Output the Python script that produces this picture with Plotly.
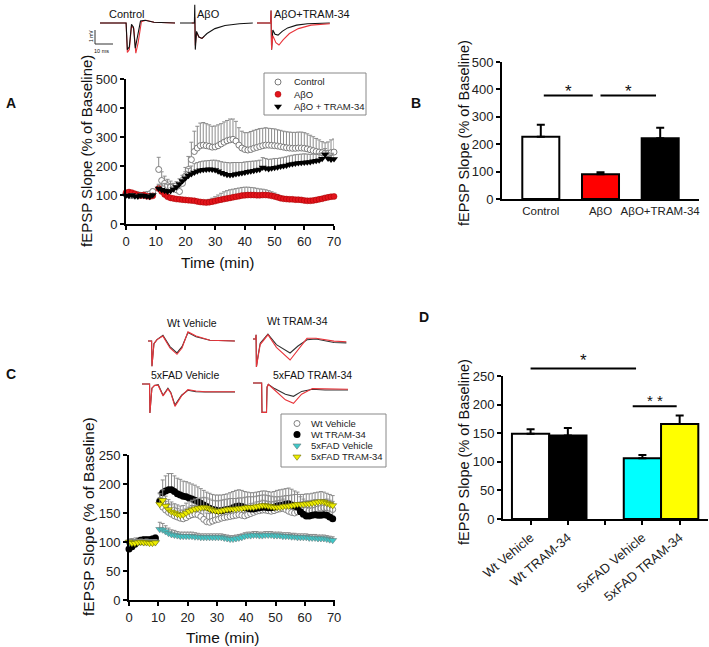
import plotly.graph_objects as go

W, H = 709, 647
FONT = "Liberation Sans, Arial, sans-serif"


def fx(px):
    # pixel column -> paper x
    return px / W


def fy(py):
    # pixel row -> paper y
    return 1 - py / H


# ---------------- Panel A : LTP time course ----------------
a_time = list(range(0, 10)) + list(range(11, 71))
a_control = [102, 100, 98, 100, 101, 99, 100, 102, 104, 112,
             188, 150, 140, 132, 128, 122, 118, 112, 140, 165,
             188, 222, 250, 262, 270, 272, 270, 268, 265, 266,
             270, 276, 282, 287, 290, 292, 286, 272, 262, 257,
             255, 257, 261, 264, 267, 270, 272, 272, 271, 270,
             269, 267, 265, 263, 262, 261, 261, 262, 262, 261,
             259, 256, 253, 250, 248, 246, 244, 243, 246, 248]
a_control_err = [6, 5, 5, 5, 5, 5, 5, 5, 6, 8,
                 42, 30, 25, 22, 20, 18, 15, 15, 20, 30,
                 45, 60, 70, 75, 78, 78, 76, 74, 72, 72,
                 72, 70, 70, 70, 72, 70, 68, 60, 58, 58,
                 60, 62, 62, 62, 62, 60, 60, 58, 58, 58,
                 56, 56, 55, 55, 55, 55, 55, 55, 55, 54,
                 52, 50, 48, 45, 42, 38, 36, 40, 44, 45]
a_abo = [108, 110, 108, 104, 100, 98, 100, 96, 95, 97,
         122, 112, 102, 94, 90, 88, 86, 85, 84, 83,
         82, 81, 80, 78, 76, 75, 74, 75, 77, 79,
         82, 84, 86, 88, 90, 92, 94, 96, 98, 99,
         100, 100, 100, 99, 99, 100, 100, 99, 97, 95,
         92, 89, 87, 86, 85, 85, 84, 84, 83, 81,
         80, 80, 81, 83, 85, 87, 90, 92, 94, 95]
a_abo_err = [4, 4, 5, 4, 4, 4, 4, 5, 4, 4,
             10, 8, 6, 5, 5, 5, 5, 5, 5, 5,
             5, 5, 5, 5, 5, 6, 8, 10, 12, 15,
             18, 22, 25, 27, 28, 28, 28, 28, 28, 28,
             27, 26, 25, 24, 22, 20, 18, 16, 14, 12,
             10, 8, 7, 6, 6, 6, 6, 6, 6, 6,
             6, 6, 6, 6, 6, 6, 6, 6, 6, 6]
a_tram = [98, 97, 100, 96, 95, 99, 97, 96, 94, 100,
          122, 118, 115, 112, 114, 120, 128, 138, 148, 158,
          166, 172, 178, 182, 185, 187, 188, 189, 188, 186,
          182, 177, 173, 170, 169, 170, 172, 174, 176, 178,
          180, 182, 184, 186, 188, 195, 192, 190, 192, 194,
          196, 198, 200, 202, 205, 207, 209, 210, 211, 212,
          213, 214, 216, 218, 220, 225, 240, 226, 222, 224]
a_tram_err = [5, 5, 5, 5, 5, 5, 5, 5, 5, 5,
              15, 20, 25, 25, 22, 20, 18, 18, 20, 22,
              25, 28, 30, 30, 30, 30, 30, 30, 32, 34,
              36, 38, 40, 42, 42, 42, 40, 38, 36, 36,
              35, 34, 33, 32, 32, 34, 34, 33, 32, 32,
              30, 30, 30, 30, 30, 30, 30, 30, 30, 30,
              28, 26, 25, 24, 22, 20, 20, 20, 20, 20]

# ---------------- Panel B : summary bars ----------------
b_groups = ["Control", "AβO", "AβO+TRAM-34"]
b_mean = [227, 90, 222]
b_err = [44, 8, 38]
b_colors = ["white", "#ff0000", "black"]

# ---------------- Panel C : 5xFAD time course ----------------
c_time = list(range(0, 10)) + [t + 0.5 for t in range(10, 70)]
c_wt_veh = [100, 101, 102, 102, 101, 100, 100, 102, 103, 104,
            172, 160, 155, 151, 148, 145, 143, 141, 140, 142,
            145, 147, 148, 147, 144, 139, 135, 134, 136, 138,
            139, 141, 142, 143, 144, 145, 146, 147, 146, 145,
            147, 149, 151, 153, 154, 155, 155, 154, 153, 154,
            156, 157, 158, 156, 153, 151, 150, 152, 154, 155,
            155, 154, 154, 155, 157, 158, 159, 159, 158, 156]
c_wt_veh_err = [4, 4, 4, 5, 4, 4, 4, 4, 5, 4,
                12, 14, 15, 15, 16, 15, 15, 14, 15, 15,
                15, 16, 15, 15, 14, 15, 15, 15, 16, 15,
                16, 16, 17, 16, 16, 16, 17, 16, 16, 16,
                16, 17, 16, 16, 16, 17, 16, 16, 16, 16,
                15, 15, 16, 15, 15, 15, 14, 15, 15, 15,
                14, 14, 15, 14, 14, 14, 14, 15, 14, 14]
c_wt_tram = [88, 92, 96, 100, 103, 104, 104, 104, 105, 107,
             170, 185, 188, 190, 190, 187, 183, 181, 179, 178,
             176, 174, 172, 170, 167, 164, 161, 158, 156, 155,
             154, 154, 155, 156, 157, 159, 161, 162, 161, 159,
             158, 157, 157, 158, 159, 160, 160, 159, 159, 160,
             162, 163, 164, 165, 166, 164, 162, 160, 152, 148,
             145, 145, 146, 147, 146, 146, 147, 146, 143, 140]
c_wt_tram_err = [5, 5, 5, 5, 5, 5, 5, 5, 5, 5,
                 15, 22, 26, 28, 28, 27, 27, 27, 26, 26,
                 26, 26, 26, 25, 25, 25, 25, 26, 26, 26,
                 27, 27, 27, 27, 28, 28, 28, 28, 28, 28,
                 28, 28, 28, 28, 28, 28, 28, 28, 27, 27,
                 27, 27, 27, 27, 27, 27, 26, 26, 26, 26,
                 26, 26, 26, 26, 25, 25, 25, 25, 25, 25]
c_fad_veh = [98, 100, 100, 100, 100, 100, 101, 100, 100, 100,
             122, 121, 118, 115, 113, 112, 111, 110, 110, 110,
             110, 110, 109, 109, 108, 108, 108, 108, 108, 108,
             108, 108, 107, 106, 105, 105, 106, 107, 108, 110,
             111, 111, 112, 112, 111, 111, 112, 112, 112, 111,
             111, 111, 110, 110, 110, 109, 109, 108, 108, 108,
             108, 107, 107, 107, 106, 106, 106, 105, 104, 103]
c_fad_veh_err = [4, 4, 4, 4, 4, 4, 4, 4, 4, 4,
                 12, 11, 10, 9, 8, 8, 7, 7, 7, 7,
                 7, 7, 7, 6, 6, 6, 6, 6, 6, 6,
                 6, 6, 6, 6, 6, 6, 6, 6, 6, 6,
                 6, 6, 6, 6, 6, 6, 6, 6, 6, 6,
                 6, 6, 6, 6, 6, 6, 6, 6, 6, 6,
                 6, 6, 6, 6, 6, 6, 6, 6, 6, 6]
c_fad_tram = [100, 98, 98, 99, 100, 99, 99, 98, 98, 99,
              165, 172, 162, 156, 152, 150, 148, 146, 147, 150,
              153, 155, 157, 158, 159, 160, 159, 157, 155, 154,
              153, 154, 155, 156, 157, 157, 157, 158, 158, 159,
              160, 160, 160, 161, 162, 163, 163, 162, 161, 160,
              160, 160, 161, 162, 162, 163, 164, 165, 165, 165,
              166, 166, 167, 168, 169, 170, 169, 167, 165, 163]
c_fad_tram_err = [5, 5, 5, 5, 5, 5, 5, 5, 5, 5,
                  18, 18, 17, 17, 17, 16, 16, 16, 16, 17,
                  17, 17, 17, 17, 17, 17, 17, 17, 17, 17,
                  18, 18, 18, 18, 18, 18, 18, 18, 18, 18,
                  18, 18, 18, 18, 18, 18, 18, 18, 18, 18,
                  18, 18, 18, 18, 18, 18, 18, 17, 17, 17,
                  17, 17, 17, 17, 17, 17, 17, 17, 17, 17]

# ---------------- Panel D : summary bars ----------------
d_slots = ["Wt Vehicle", "Wt TRAM-34", "", "5xFAD Vehicle", "5xFAD TRAM-34"]
d_groups = ["Wt Vehicle", "Wt TRAM-34", "5xFAD Vehicle", "5xFAD TRAM-34"]
d_mean = [149, 146, 106, 166]
d_err = [8, 13, 6, 15]
d_colors = ["white", "black", "#00ffff", "#ffff00"]

# ---------------- example fEPSP traces (ms, mV) ----------------
ins_ctl_t_k = [0, 14.5, 15.2, 16.3, 17.5, 18.6, 19.6, 20.6, 22.5, 25, 30, 41.7]
ins_ctl_v_k = [0, 0, -1.9, -1.7, -0.1, -0.3, -1.8, -1.2, 0.15, 0.2, 0.05, 0]
ins_ctl_t_r = [0, 14.5, 15.2, 16.3, 17.5, 18.8, 19.9, 21.2, 23, 25.5, 30, 41.7]
ins_ctl_v_r = [0, 0, -2.1, -1.9, -0.2, -0.4, -2.15, -1.4, 0.1, 0.2, 0.05, 0]
ins_abo_t_k = [0, 8.0, 8.2, 8.5, 9.2, 10.5, 12.2, 15, 19.4, 25, 33, 40.5]
ins_abo_v_k = [0, 0, 1.3, -1.9, -0.6, -1.0, -1.1, -0.75, -0.4, -0.18, -0.05, 0]
ins_abo_t_r = [6.5, 8.0, 8.2, 8.5, 9.2, 10.5, 12.2, 13.5]
ins_abo_v_r = [0, 0, 0.4, -1.6, -0.7, -1.0, -1.1, -0.95]
ins_tram_t_k = [0, 7.6, 7.8, 8.1, 8.8, 10, 11.7, 14, 17, 22, 28, 40.5]
ins_tram_v_k = [0, 0, 0.9, -1.9, -0.5, -0.8, -0.86, -0.6, -0.35, -0.15, -0.05, 0]
ins_tram_t_r = [0, 7.6, 7.8, 8.1, 8.8, 10.5, 12.2, 14.5, 18, 23, 30, 40.5]
ins_tram_v_r = [0, 0, 0.9, -1.9, -0.9, -1.4, -1.57, -1.2, -0.75, -0.4, -0.15, -0.05]

ins_wv_t = [0, 2.0, 2.2, 3.3, 5, 8.3, 12.2, 16.1, 18.9, 22.2, 26.7, 34.4, 48.3]
ins_wv_v_k = [0, 0, -1.8, -0.2, 0.1, 0.4, -0.4, -0.85, -0.4, 0.6, 0.3, 0.05, 0]
ins_wv_v_r = [0, 0, -1.8, -0.2, 0.1, 0.35, -0.5, -0.95, -0.5, 0.65, 0.35, 0.05, 0]
ins_wt_t = [0, 1.5, 1.7, 1.9, 2.8, 4, 8.3, 13, 20.6, 25, 30, 35, 45, 52]
ins_wt_v_k = [0, 0, 0.3, -2.0, -1.2, -0.3, 0.35, -0.4, -1.0, -0.5, -0.05, 0.0, -0.25, -0.28]
ins_wt_v_r = [0, 0, 0.3, -2.0, -1.3, -0.4, 0.3, -0.6, -1.5, -0.8, 0.05, 0.05, -0.15, -0.2]
ins_fv_t = [0, 4.2, 4.4, 5.5, 7, 9, 11.7, 14.4, 16, 18.3, 22, 25.5, 30, 35, 51.7]
ins_fv_v_k = [0, 0, -2.07, -0.3, -0.1, -0.05, -0.8, -0.3, -0.6, -1.5, -0.8, -0.45, -0.55, -0.57, -0.57]
ins_fv_v_r = [0, 0, -2.07, -0.3, -0.1, -0.1, -0.85, -0.35, -0.65, -1.6, -0.85, -0.4, -0.5, -0.55, -0.55]
ins_ft_t = [0, 4.8, 5.0, 7.5, 7.8, 8.5, 12, 18, 22.5, 27, 33, 40, 52.8]
ins_ft_v_k = [0, 0, -2.1, -2.1, -0.3, -0.1, -0.4, -0.8, -0.95, -0.6, -0.45, -0.5, -0.5]
ins_ft_v_r = [0, 0, -2.1, -2.1, -0.3, -0.1, -0.5, -1.2, -1.45, -0.8, -0.4, -0.4, -0.45]

# ---------------- marker styles ----------------
sty_control = dict(symbol="circle", size=6, color="white", line=dict(color="#7a7a7a", width=1))
sty_abo = dict(symbol="circle", size=6, color="#e3141c", line=dict(color="#a00000", width=0.5))
sty_tram = dict(symbol="triangle-down", size=7, color="black", line=dict(width=0))
sty_wtveh = dict(symbol="circle", size=6, color="white", line=dict(color="#808080", width=1))
sty_wttram = dict(symbol="circle", size=7, color="black", line=dict(width=0))
sty_fadveh = dict(symbol="triangle-down", size=7, color="#3ec8c8", line=dict(color="#6a7a7a", width=0.6))
sty_fadtram = dict(symbol="triangle-down", size=7, color="#eeee00", line=dict(color="#6a6a00", width=0.6))

RED = "#e8343a"


def errs(arr):
    return dict(type="data", symmetric=False, array=arr, arrayminus=[0 for _ in arr],
                color="#8c8c8c", thickness=1, width=2)


fig = go.Figure()

# Panel A series
for y, e, sty in [(a_control, a_control_err, sty_control),
                  (a_abo, a_abo_err, sty_abo),
                  (a_tram, a_tram_err, sty_tram)]:
    fig.add_trace(go.Scatter(x=a_time, y=y, mode="markers", marker=sty, error_y=errs(e),
                             xaxis="x", yaxis="y", cliponaxis=False, showlegend=False))

# Panel B bars
b_pos = list(range(len(b_groups)))
fig.add_trace(go.Bar(x=b_pos, y=b_mean, width=0.62,
                     marker=dict(color=b_colors, line=dict(color="black", width=2)),
                     error_y=dict(type="data", symmetric=False, array=b_err,
                                  arrayminus=[0 for _ in b_err], color="black",
                                  thickness=2, width=4),
                     xaxis="x2", yaxis="y2", showlegend=False))

# Panel C series
for y, e, sty in [(c_wt_veh, c_wt_veh_err, sty_wtveh),
                  (c_wt_tram, c_wt_tram_err, sty_wttram),
                  (c_fad_veh, c_fad_veh_err, sty_fadveh),
                  (c_fad_tram, c_fad_tram_err, sty_fadtram)]:
    fig.add_trace(go.Scatter(x=c_time, y=y, mode="markers", marker=sty, error_y=errs(e),
                             xaxis="x3", yaxis="y3", cliponaxis=False, showlegend=False))

# Panel D bars
d_pos = [d_slots.index(g) for g in d_groups]
fig.add_trace(go.Bar(x=d_pos, y=d_mean, width=1.0,
                     marker=dict(color=d_colors, line=dict(color="black", width=2)),
                     error_y=dict(type="data", symmetric=False, array=d_err,
                                  arrayminus=[0 for _ in d_err], color="black",
                                  thickness=2, width=4),
                     xaxis="x4", yaxis="y4", showlegend=False))

# example traces (insets)
PX_MS, PX_MV = 1.8, 14.0
insets = [
    # axis n, left px, baseline px, span ms, [(t, v, color)]
    (5, 100, 23, 41.7, [(ins_ctl_t_r, ins_ctl_v_r, RED), (ins_ctl_t_k, ins_ctl_v_k, "#111")]),
    (6, 180, 23, 40.5, [(ins_abo_t_r, ins_abo_v_r, RED), (ins_abo_t_k, ins_abo_v_k, "#111")]),
    (7, 257, 23, 40.5, [(ins_tram_t_k, ins_tram_v_k, "#111"), (ins_tram_t_r, ins_tram_v_r, RED)]),
    (8, 148, 341, 48.3, [(ins_wv_t, ins_wv_v_k, "#333"), (ins_wv_t, ins_wv_v_r, RED)]),
    (9, 253, 339, 52.0, [(ins_wt_t, ins_wt_v_k, "#333"), (ins_wt_t, ins_wt_v_r, RED)]),
    (10, 142, 384, 51.7, [(ins_fv_t, ins_fv_v_k, "#333"), (ins_fv_t, ins_fv_v_r, RED)]),
    (11, 253, 383, 52.8, [(ins_ft_t, ins_ft_v_k, "#333"), (ins_ft_t, ins_ft_v_r, RED)]),
]
V_LO, V_HI = -2.4, 1.6
layout_axes = {}
for n, left, base, span, lines in insets:
    for t, v, col in lines:
        fig.add_trace(go.Scatter(x=t, y=v, mode="lines", line=dict(color=col, width=1.1),
                                 xaxis=f"x{n}", yaxis=f"y{n}", showlegend=False,
                                 hoverinfo="skip"))
    layout_axes[f"xaxis{n}"] = dict(domain=[fx(left), fx(left + span * PX_MS)], range=[0, span],
                                    visible=False, anchor=f"y{n}")
    layout_axes[f"yaxis{n}"] = dict(domain=[fy(base - V_LO * PX_MV), fy(base - V_HI * PX_MV)],
                                    range=[V_LO, V_HI], visible=False, anchor=f"x{n}")

# legend keys, drawn on a full-figure pixel overlay axis
leg_a = [("Control", sty_control), ("AβO", sty_abo), ("AβO + TRAM-34", sty_tram)]
leg_c = [("Wt Vehicle", sty_wtveh), ("Wt TRAM-34", sty_wttram),
         ("5xFAD Vehicle", sty_fadveh), ("5xFAD TRAM-34", sty_fadtram)]
annotations = []
for entries, kx, tx, y0, dy in [(leg_a, 278, 292, 82, 12.3), (leg_c, 297, 309, 423.5, 11.1)]:
    for i, (name, sty) in enumerate(entries):
        fig.add_trace(go.Scatter(x=[kx], y=[y0 + i * dy], mode="markers", marker=sty,
                                 xaxis="x14", yaxis="y14", showlegend=False, hoverinfo="skip"))
        annotations.append(dict(text=name, x=fx(tx), y=fy(y0 + i * dy), xref="paper", yref="paper",
                                xanchor="left", yanchor="middle", showarrow=False,
                                font=dict(size=9.5, color="#222")))


# ---------------- axes ----------------
def ax(**kw):
    base = dict(showline=True, linecolor="black", linewidth=2, ticks="outside", ticklen=4,
                tickwidth=1.5, tickcolor="black", showgrid=False, zeroline=False,
                automargin=False, tickfont=dict(size=13, color="#222", family=FONT))
    base.update(kw)
    return base


D_Y0, D_Y250 = 519, 376
layout_axes.update(
    xaxis=ax(domain=[fx(126), fx(334)], range=[0, 70], tickvals=list(range(0, 71, 10)), anchor="y"),
    yaxis=ax(domain=[fy(224), fy(79)], range=[0, 500], tickvals=list(range(0, 501, 100)), anchor="x"),
    xaxis2=ax(domain=[fx(502), fx(699)], range=[-0.65, 2.65], tickvals=b_pos, ticktext=b_groups,
              ticks="", tickfont=dict(size=11.5, color="#222", family=FONT), anchor="y2"),
    yaxis2=ax(domain=[fy(199), fy(62)], range=[0, 500], tickvals=list(range(0, 501, 100)), anchor="x2"),
    xaxis3=ax(domain=[fx(129), fx(335)], range=[0, 70.3], tickvals=list(range(0, 71, 10)), anchor="y3"),
    yaxis3=ax(domain=[fy(600), fy(455)], range=[0, 250], tickvals=list(range(0, 251, 50)), anchor="x3"),
    xaxis4=ax(domain=[fx(503), fx(708)], range=[-0.74, 4.76], tickvals=list(range(len(d_slots))),
              ticktext=d_slots, tickangle=-40, tickfont=dict(size=13, color="#222", family=FONT),
              anchor="y4"),
    yaxis4=ax(domain=[fy(D_Y0), fy(D_Y250)], range=[0, 250], tickvals=list(range(0, 251, 50)), anchor="x4"),
    # overlay sharing panel D's scale, taller, for the significance bar above 250
    xaxis13=dict(domain=[fx(503), fx(708)], range=[-0.74, 4.76], visible=False, anchor="y13"),
    yaxis13=dict(domain=[fy(D_Y0), fy(330)], range=[0, 250 * (D_Y0 - 330) / (D_Y0 - D_Y250)],
                 visible=False, anchor="x13"),
    xaxis14=dict(domain=[0, 1], range=[0, W], visible=False, anchor="y14"),
    yaxis14=dict(domain=[0, 1], range=[H, 0], visible=False, anchor="x14"),
)

# ---------------- shapes ----------------
shapes = [
    # significance bars
    dict(type="line", xref="x2", yref="y2", x0=0.05, x1=0.87, y0=378, y1=378, line=dict(color="black", width=2)),
    dict(type="line", xref="x2", yref="y2", x0=1.0, x1=1.93, y0=378, y1=378, line=dict(color="black", width=2)),
    dict(type="line", xref="x13", yref="y13", x0=0.0, x1=2.83, y0=263, y1=263, line=dict(color="black", width=2)),
    dict(type="line", xref="x4", yref="y4", x0=2.74, x1=3.92, y0=197, y1=197, line=dict(color="black", width=2)),
    # legend boxes
    dict(type="rect", xref="paper", yref="paper", x0=fx(264), x1=fx(366), y0=fy(115), y1=fy(73),
         line=dict(color="#888", width=1)),
    dict(type="rect", xref="paper", yref="paper", x0=fx(281), x1=fx(386), y0=fy(467), y1=fy(414),
         line=dict(color="#888", width=1)),
    # scale bar
    dict(type="line", xref="paper", yref="paper", x0=fx(95), x1=fx(95), y0=fy(30), y1=fy(44),
         line=dict(color="#333", width=1)),
    dict(type="line", xref="paper", yref="paper", x0=fx(95), x1=fx(113), y0=fy(44), y1=fy(44),
         line=dict(color="#333", width=1)),
]


def note(text, x, y, size, **kw):
    d = dict(text=text, x=fx(x), y=fy(y), xref="paper", yref="paper", showarrow=False,
             xanchor="center", yanchor="middle",
             font=dict(size=size, color="#111", family=FONT))
    d.update(kw)
    return d


def star(text, xa, ya, x, y, size):
    return dict(text=text, x=x, y=y, xref=xa, yref=ya, showarrow=False,
                xanchor="center", yanchor="middle",
                font=dict(size=size, color="#111", family=FONT))


annotations += [
    note("<b>A</b>", 4, 103, 14, xanchor="left"),
    note("<b>B</b>", 409, 103, 14, xanchor="left"),
    note("<b>C</b>", 4, 374, 14, xanchor="left"),
    note("<b>D</b>", 417, 317, 14, xanchor="left"),
    note("fEPSP Slope (% of Baseline)", 86, 151, 15, textangle=-90),
    note("fEPSP Slope (% of Baseline)", 464, 133, 14.5, textangle=-90),
    note("fEPSP Slope (% of Baseline)", 88, 517, 15.5, textangle=-90),
    note("fEPSP Slope (% of Baseline)", 464, 452, 14.5, textangle=-90),
    note("Time (min)", 217, 262, 15.5),
    note("Time (min)", 222, 637, 15.5),
    note("Control", 126, 14, 11),
    note("AβO", 208, 14, 11),
    note("AβO+TRAM-34", 312, 14, 11),
    note("1 mV", 91, 36, 5, textangle=-90),
    note("10 ms", 101, 51, 5.5),
    note("Wt Vehicle", 192, 323, 10.5),
    note("Wt TRAM-34", 297, 321, 10.5),
    note("5xFAD Vehicle", 185, 375, 10.5),
    note("5xFAD TRAM-34", 312, 375, 10.5),
    star("*", "x2", "y2", 0.46, 392, 17),
    star("*", "x2", "y2", 1.47, 392, 17),
    star("*", "x13", "y13", 1.42, 277, 17),
    star("* *", "x4", "y4", 3.33, 207, 15),
]

fig.update_layout(
    width=W, height=H, margin=dict(l=0, r=0, t=0, b=0, pad=0, autoexpand=False),
    paper_bgcolor="white", plot_bgcolor="rgba(0,0,0,0)",
    font=dict(family=FONT, color="#111"),
    shapes=shapes, annotations=annotations, showlegend=False,
    **layout_axes,
)

# the page's default 8px body margin would shift the figure off the window
fig.write_html("out.html", config={"displayModeBar": False},
               post_script="document.body.style.margin='0px';")
